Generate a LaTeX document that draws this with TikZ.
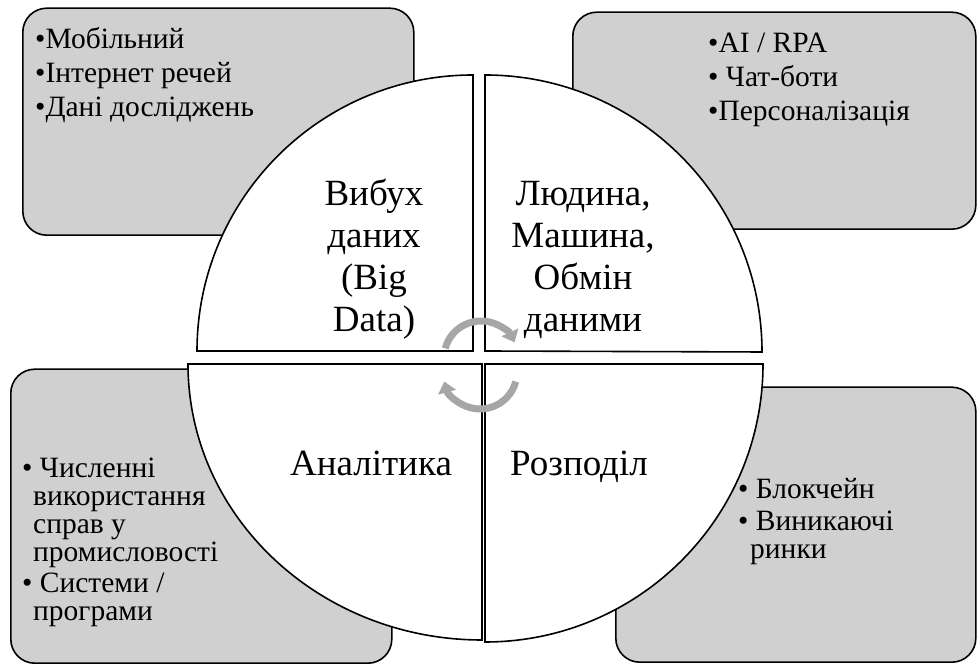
\documentclass[tikz,border=0pt]{standalone}
\usepackage{fontspec}
\setmainfont{Liberation Serif}
\usetikzlibrary{arrows.meta}
\definecolor{boxgray}{RGB}{208,208,208}
\definecolor{arrgray}{RGB}{166,166,166}
\begin{document}
\begin{tikzpicture}[x=1pt,y=1pt,
  cornerbox/.style={draw=black,line width=1.6pt,fill=boxgray,rounded corners=24pt,inner sep=0pt,anchor=south west},
  quarter/.style={draw=black,line width=1.6pt,fill=white},
  cyclearrow/.style={draw=arrgray,line width=7pt,-{Triangle[width=18pt,length=11pt]}},
  mainlabel/.style={font=\fontsize{37}{42}\selectfont,align=center,anchor=base,inner sep=0pt},
  listlabel/.style={font=\fontsize{29.5}{28}\selectfont,align=left,anchor=base west,inner sep=0pt}]
\useasboundingbox (0,0) rectangle (977,668);
% corner boxes
\node[cornerbox,minimum width=391pt,minimum height=227pt] (tlbox) at (22,432) {};
\node[cornerbox,minimum width=403pt,minimum height=217pt] (trbox) at (572,438) {};
\node[cornerbox,minimum width=381pt,minimum height=294pt] (blbox) at (10,4) {};
\node[cornerbox,minimum width=360pt,minimum height=275pt] (brbox) at (615,5) {};
% quarters
\draw[quarter] (473,317) -- (197,317) arc[start angle=180,end angle=90,radius=276pt] -- cycle;
\draw[quarter] (485,317) -- (485,593) arc[start angle=90,end angle=0,radius=277pt] -- cycle;
\draw[quarter] (482,304) -- (188,304) arc[start angle=180,end angle=270,x radius=294pt,y radius=276pt] -- cycle;
\draw[quarter] (485,304) -- (485,26) arc[start angle=270,end angle=360,radius=278pt] -- cycle;
% cycle arrows
\draw[cyclearrow] ([shift={(165:37pt)}]481,310) arc[start angle=165,end angle=25,radius=37pt];
\draw[cyclearrow] ([shift={(-15:37pt)}]480,296) arc[start angle=-15,end angle=-165,radius=37pt];
% main labels (base = baseline of last line)
\node[mainlabel] (bigdata) at (374,336) {Вибух\\даних\\(Big\\Data)};
\node[mainlabel] (hmx) at (583,336) {Людина,\\Машина,\\Обмін\\даними};
\node[mainlabel] (analytics) at (371,192) {Аналітика};
\node[mainlabel] (distrib) at (579,192) {Розподіл};
% lists (base = baseline of last line)
\node[listlabel] (tllist) at (35,551) {•Мобільний\\[6pt]•Інтернет речей\\[6pt]•Дані досліджень};
\node[listlabel] (trlist) at (708,547) {•AI / RPA\\[6pt]• Чат-боти\\[6pt]•Персоналізація};
\node[listlabel] (brlist) at (738,109) {• Блокчейн\\[4pt]• Виникаючі\\\hspace*{12pt}ринки};
\node[listlabel] (bllist) at (22,47) {• Численні\\\hspace*{11pt}використання\\\hspace*{11pt}справ у\\\hspace*{11pt}промисловості\\[3pt]• Системи /\\\hspace*{11pt}програми};
\end{tikzpicture}
\end{document}
